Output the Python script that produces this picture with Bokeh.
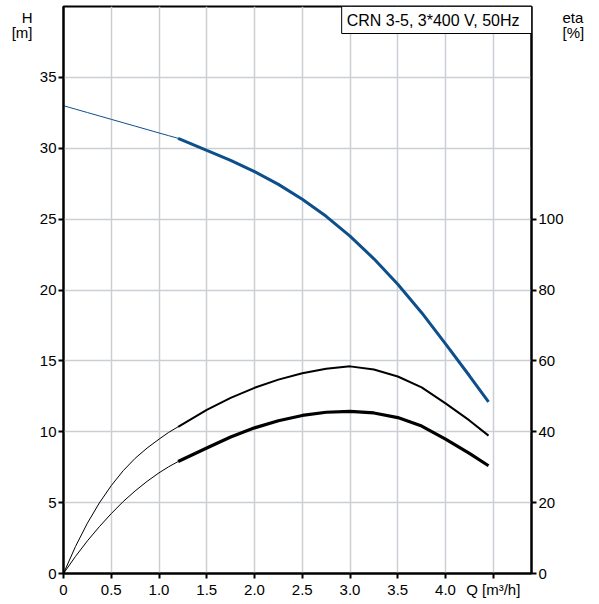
from bokeh.plotting import figure
from bokeh.models import Range1d, LinearAxis, FixedTicker, Label
from bokeh.embed import file_html
from bokeh.resources import INLINE

# ---- data ----
Q = [0, 0.125, 0.25, 0.375, 0.5, 0.625, 0.75, 0.875, 1.0, 1.1, 1.2,
     1.5, 1.75, 2.0, 2.25, 2.5, 2.75, 3.0, 3.25, 3.5, 3.75, 4.0, 4.25, 4.45]
H = [33.0, 32.76, 32.52, 32.28, 32.04, 31.8, 31.56, 31.32, 31.08, 30.89, 30.7,
     29.85, 29.15, 28.35, 27.45, 26.4, 25.2, 23.8, 22.2, 20.4, 18.4, 16.2, 13.95, 12.1]
ETA_UPPER = [0, 7.6, 14.2, 19.9, 24.8, 29.0, 32.5, 35.4, 37.9, 39.8, 41.4,
             46.2, 49.55, 52.4, 54.7, 56.5, 57.75, 58.45, 57.55, 55.6, 52.5, 48.0, 43.2, 38.9]
ETA_LOWER = [0, 4.8, 9.2, 13.2, 16.9, 20.3, 23.3, 26.0, 28.4, 30.1, 31.6,
             35.4, 38.5, 41.1, 43.1, 44.6, 45.5, 45.75, 45.3, 44.0, 41.6, 37.9, 33.9, 30.4]
Q_SPLIT = 1.2

X_TICKS = [0, 0.5, 1.0, 1.5, 2.0, 2.5, 3.0, 3.5, 4.0, 4.5]
X_LABELS = ["0", "0.5", "1.0", "1.5", "2.0", "2.5", "3.0", "3.5", "4.0", "Q [m³/h]"]
H_TICKS = [0, 5, 10, 15, 20, 25, 30, 35]
ETA_TICKS = [0, 20, 40, 60, 80, 100]
H_UNIT = "H\n[m]"
ETA_UNIT = "eta\n[%]"
TITLE = "CRN 3-5, 3*400 V, 50Hz"

FONT = "Liberation Sans"
BLUE = "#0d4f8b"
GRID = "#cbcfd3"

p = figure(width=587, height=600, output_backend="svg", toolbar_location=None,
           x_range=Range1d(0, 4.9), y_range=Range1d(0, 40),
           min_border_left=63, min_border_right=52, min_border_top=6,
           min_border_bottom=20)
p.extra_y_ranges = {"eta": Range1d(0, 160)}

p.outline_line_color = "black"
p.outline_line_width = 2
p.background_fill_color = "white"

p.xaxis.ticker = FixedTicker(ticks=X_TICKS)
p.xaxis.major_label_overrides = {t: l for t, l in zip(X_TICKS, X_LABELS)}
p.yaxis.ticker = FixedTicker(ticks=H_TICKS)

eta_axis = LinearAxis(y_range_name="eta", ticker=FixedTicker(ticks=ETA_TICKS))
p.add_layout(eta_axis, "right")

for ax in [p.xaxis[0], p.yaxis[0], eta_axis]:
    ax.axis_line_color = "black"
    ax.axis_line_width = 2
    ax.major_tick_line_color = "black"
    ax.major_tick_line_width = 2
    ax.major_tick_out = 5
    ax.major_tick_in = 0
    ax.minor_tick_line_color = None
    ax.major_label_text_font = FONT
    ax.major_label_text_font_size = "15px"
    ax.major_label_text_color = "black"
    ax.major_label_standoff = 2

# unit captions at the top of both value axes (tick-less helper axes)
h_unit_axis = LinearAxis(ticker=FixedTicker(ticks=[38.7]),
                         major_label_overrides={38.7: H_UNIT})
eta_unit_axis = LinearAxis(y_range_name="eta", ticker=FixedTicker(ticks=[154.8]),
                           major_label_overrides={154.8: ETA_UNIT})
for ax, so in [(h_unit_axis, 4), (eta_unit_axis, -4)]:
    ax.axis_line_color = None
    ax.major_tick_line_color = None
    ax.minor_tick_line_color = None
    ax.major_tick_out = 0
    ax.major_tick_in = 0
    ax.major_label_standoff = so
    ax.major_label_text_font = FONT
    ax.major_label_text_font_size = "15px"
    ax.major_label_text_color = "black"
    ax.major_label_text_align = "center"
    ax.major_label_text_line_height = 0.85
p.add_layout(h_unit_axis, "left")
p.add_layout(eta_unit_axis, "right")

p.xgrid.ticker = FixedTicker(ticks=X_TICKS[1:])
p.ygrid.ticker = FixedTicker(ticks=H_TICKS[1:])
p.xgrid.grid_line_color = GRID
p.ygrid.grid_line_color = GRID
p.xgrid.grid_line_width = 1.5
p.ygrid.grid_line_width = 1.5

i = Q.index(Q_SPLIT)
# Head curve
p.line(Q[:i + 1], H[:i + 1], line_color=BLUE, line_width=1)
p.line(Q[i:], H[i:], line_color=BLUE, line_width=3)
# efficiency curves
p.line(Q[:i + 1], ETA_UPPER[:i + 1], line_color="black", line_width=1, y_range_name="eta")
p.line(Q[i:], ETA_UPPER[i:], line_color="black", line_width=2, y_range_name="eta")
p.line(Q[:i + 1], ETA_LOWER[:i + 1], line_color="black", line_width=1, y_range_name="eta")
p.line(Q[i:], ETA_LOWER[i:], line_color="black", line_width=3.2, y_range_name="eta")

# title box
p.add_layout(Label(x=4.9, y=40, text=TITLE, text_align="right", text_baseline="top",
                   x_offset=0, y_offset=0, text_font=FONT, text_font_size="16px",
                   text_color="black", border_line_color="black", border_line_width=1,
                   background_fill_color="white", padding=(5, 12, 5, 5)))

open("out.html", "w").write(file_html(p, INLINE))
